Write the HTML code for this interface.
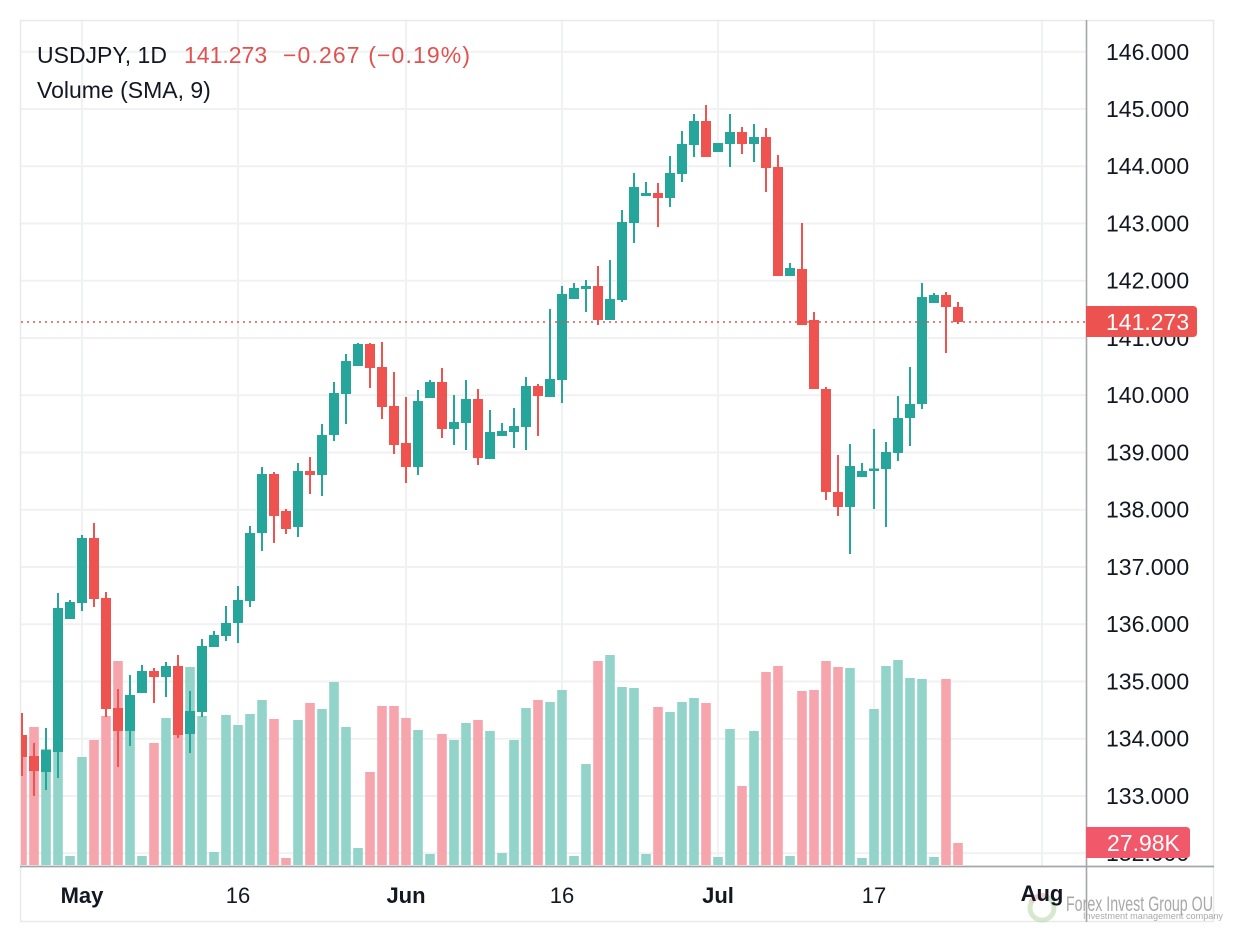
<!DOCTYPE html>
<html><head><meta charset="utf-8"><style>
html,body{margin:0;padding:0;background:#fff;}
svg{display:block;font-family:"Liberation Sans",sans-serif;}
</style></head><body>
<svg width="1234" height="941" viewBox="0 0 1234 941" xmlns="http://www.w3.org/2000/svg">
<defs><clipPath id="c"><rect x="21" y="21" width="1065" height="845"/></clipPath></defs>
<rect x="0" y="0" width="1234" height="941" fill="#fff"/>
<path stroke="#f0f1f3" stroke-width="2" fill="none" d="M20 51.7H1086M20 109H1086M20 166.2H1086M20 223.5H1086M20 280.7H1086M20 338H1086M20 395.2H1086M20 452.5H1086M20 509.7H1086M20 567H1086M20 624.2H1086M20 681.5H1086M20 738.7H1086M20 796H1086M20 853.2H1086M82 20V866M238 20V866M406 20V866M562 20V866M718 20V866M874 20V866M1042 20V866"/>
<rect x="20.5" y="20.5" width="1193" height="901" fill="none" stroke="#e8e9eb" stroke-width="1.5"/>
<g clip-path="url(#c)" fill="none" stroke-linecap="butt">
<path stroke="#92d3ca" stroke-width="9.6" d="M46 749V865M58 750V865M70 856V865M82 757V865M130 720V865M142 856V865M166 718V865M190 667V865M202 716V865M214 852V865M226 715V865M238 725V865M250 714V865M262 700V865M298 720V865M322 709V865M334 682V865M346 727V865M358 848V865M418 730V865M430 854V865M454 740V865M466 723V865M490 731V865M502 853V865M514 740V865M526 708V865M550 702V865M562 690V865M574 856V865M586 764V865M610 655V865M622 687V865M634 688V865M646 854V865M670 712V865M682 702V865M694 698V865M718 857V865M730 729V865M754 731V865M790 856V865M850 668V865M862 858V865M874 709V865M886 666V865M898 660V865M910 678V865M922 679V865M934 857V865"/>
<path stroke="#f6a5ad" stroke-width="9.6" d="M22 745V865M34 727V865M94 740V865M106 716V865M118 661V865M154 743V865M178 690V865M274 719V865M286 858V865M310 703V865M370 772V865M382 706V865M394 706V865M406 718V865M442 734V865M478 720V865M538 700V865M598 661V865M658 707V865M706 703V865M742 786V865M766 672V865M778 666V865M802 691V865M814 690V865M826 661V865M838 667V865M946 679V865M958 843V865"/>
<path stroke="#26a69a" stroke-width="2" d="M46 728V790M58 593V778M70 600V619M82 535V611M130 675V746M142 665V693M166 662V697M190 691V753M202 639V717M214 631V647M226 606V641M238 586V643M250 526V607M262 467V551M298 463V537M322 424V496M334 382V441M346 354V424M358 343V366M418 390V475M430 380V398M454 395V445M466 380V450M490 410V459M502 423V436M514 408V448M526 377V450M550 309V397M562 286V403M574 283V299M586 280V312M610 260V320M622 210V302M634 173V243M646 182V196M670 156V207M682 131V182M694 114V157M718 143V152M730 114V167M754 124V162M790 263V276M850 444V554M862 463V477M874 429V509M886 442V527M898 396V461M910 367V446M922 283V409M934 293V303"/>
<path stroke="#26a69a" stroke-width="10" d="M46 750V772M58 608V752M70 602V619M82 538V603M130 695V731M142 671V693M166 666V677M190 711V734M202 646V712M214 635V647M226 623V636M238 600V623M250 533V601M262 474V533M298 471V527M322 435V475M334 393V435M346 361V394M358 344V366M418 401V467M430 382V398M454 422V429M466 399V423M490 432V459M502 431V436M514 426V432M526 386V427M550 379V397M562 294V380M574 288V299M586 286V289M610 299V320M622 222V300M634 187V223M646 193V196M670 173V198M682 144V174M694 121V145M718 143V152M730 132V144M754 137V144M790 268V276M850 466V507M862 471V477M874 468.5V471M886 452V469M898 418V453M910 404V418M922 297V404M934 295V303"/>
<path stroke="#ef5350" stroke-width="2" d="M22 713V776M34 743V796M94 523V607M106 592V717M118 689V767M154 668V703M178 655V738M274 472V543M286 509V534M310 457V494M370 343V388M382 342V419M394 372V454M406 397V483M442 368V438M478 389V465M538 384V436M598 266V325M658 183V227M706 105V157M742 127V154M766 128V192M778 155V276M802 223V325M814 312V389M826 387V500M838 455V516M946 292V353M958 302V324"/>
<path stroke="#ef5350" stroke-width="10" d="M22 735V757M34 756V771M94 538V599M106 598V709M118 708V731M154 671V677M178 666V735M274 474V516M286 511V529M310 471V475M370 344V368M382 367V407M394 406V445M406 443V467M442 382V429M478 399V458M538 386V396M598 286V320M658 193V198M706 121V157M742 132V144M766 137V168M778 167V276M802 269V325M814 320V389M826 389V492M838 492V507M946 295V307M958 307V322"/>
<path stroke="#e0524f" stroke-width="1.6" stroke-dasharray="2 4" d="M21 322H1086"/>
</g>
<path stroke="#a3a6ab" stroke-width="1.6" d="M1086.5 20V922"/>
<path stroke="#a3a6ab" stroke-width="1.8" d="M20 866.5H1214"/>
<g font-size="23" fill="#131722">
<text x="1106" y="60">146.000</text>
<text x="1106" y="117">145.000</text>
<text x="1106" y="174">144.000</text>
<text x="1106" y="231.5">143.000</text>
<text x="1106" y="288.7">142.000</text>
<text x="1106" y="346">141.000</text>
<text x="1106" y="403.2">140.000</text>
<text x="1106" y="460.5">139.000</text>
<text x="1106" y="517.7">138.000</text>
<text x="1106" y="575">137.000</text>
<text x="1106" y="632.2">136.000</text>
<text x="1106" y="689.5">135.000</text>
<text x="1106" y="746.7">134.000</text>
<text x="1106" y="804">133.000</text>
<text x="1106" y="861.2">132.000</text>
</g>
<path d="M1086 306H1193Q1197 306 1197 310V333Q1197 337 1193 337H1086Z" fill="#ec5350"/>
<text x="1106" y="330" font-size="23" fill="#fff">141.273</text>
<path d="M1086 827H1186Q1190 827 1190 831V854Q1190 858 1186 858H1086Z" fill="#f1586a"/>
<text x="1107" y="851" font-size="23" fill="#fff">27.98K</text>
<text x="37" y="63" font-size="23" fill="#131722">USDJPY, 1D</text>
<text x="184" y="63" font-size="23" fill="#e0524f">141.273</text>
<text x="283" y="63" font-size="23" fill="#e0524f" textLength="187" lengthAdjust="spacing">−0.267 (−0.19%)</text>
<text x="37" y="98" font-size="23" fill="#131722">Volume (SMA, 9)</text>
<g opacity="0.55" fill="none" stroke-width="5">
<circle cx="1042" cy="908" r="12" stroke="#b9d6a8"/>
<path d="M1031 902A12 12 0 0 1 1046 896.5" stroke="#e7a3a3"/>
</g>
<g font-size="22" fill="#131722" text-anchor="middle">
<text x="82" y="903" font-weight="bold">May</text>
<text x="238" y="903">16</text>
<text x="406" y="903" font-weight="bold">Jun</text>
<text x="562" y="903">16</text>
<text x="718" y="903" font-weight="bold">Jul</text>
<text x="874" y="903">17</text>
<text x="1042" y="901" font-weight="bold">Aug</text>
</g>
<text x="1066" y="911" font-size="21" fill="#9a9a9a" opacity="0.85" textLength="147" lengthAdjust="spacingAndGlyphs">Forex Invest Group OU</text>
<text x="1083" y="919" font-size="9" fill="#9a9a9a" opacity="0.85" textLength="140" lengthAdjust="spacingAndGlyphs">Investment management company</text>
</svg>
</body></html>
